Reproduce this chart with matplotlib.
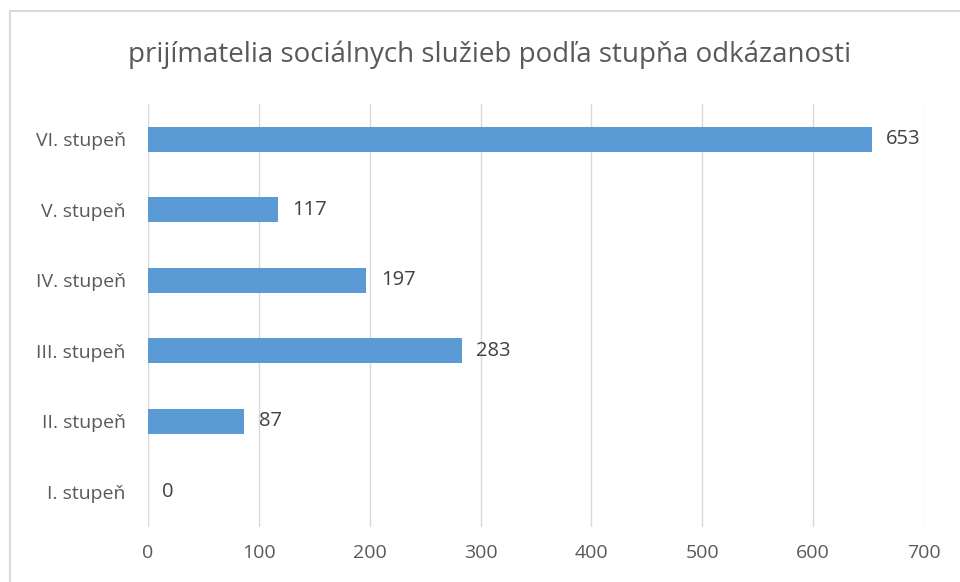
import matplotlib.pyplot as plt
from matplotlib.patches import Rectangle

categories = ['I. stupeň', 'II. stupeň', 'III. stupeň', 'IV. stupeň', 'V. stupeň', 'VI. stupeň']
values = [0, 87, 283, 197, 117, 653]
x_ticks = [0, 100, 200, 300, 400, 500, 600, 700]
title = 'prijímatelia sociálnych služieb podľa stupňa odkázanosti'

bar_color = '#5B9BD5'
text_color = '#595959'
grid_color = '#D9D9D9'

plt.rcParams['font.family'] = ['Open Sans', 'DejaVu Sans']

fig = plt.figure(figsize=(9.6, 5.82), dpi=100)
ax = fig.add_axes([148 / 960, 55 / 582, 776 / 960, 423 / 582])

pos = list(range(len(categories)))
bars = ax.barh(pos, values, height=0.35, color=bar_color, zorder=3)

for p, v in zip(pos, values):
    ax.text(v + 13, p, str(v), va='center', ha='left', fontsize=14.5, color='#404040')

ax.set_xlim(0, 700)
ax.set_ylim(-0.5, len(categories) - 0.5)
ax.set_xticks(x_ticks)
ax.set_yticks(pos)
ax.set_yticklabels(categories)
ax.tick_params(axis='both', length=0, labelsize=14, labelcolor=text_color)
ax.tick_params(axis='x', pad=12)
ax.tick_params(axis='y', pad=16)
ax.grid(axis='x', color=grid_color, linewidth=1, zorder=0)
for side in ax.spines.values():
    side.set_visible(False)

fig.text(490 / 960, 1 - 55 / 582, title, ha='center', va='center', fontsize=20, color=text_color)

# chart-area border (only left and top are visible in the crop)
fig.patches.append(Rectangle((10 / 960, -0.1), 1.2, 1 - 11 / 582 + 0.1,
                             transform=fig.transFigure, fill=False,
                             edgecolor=grid_color, linewidth=1.5))

plt.savefig('out.png', dpi=100)
plt.close()
